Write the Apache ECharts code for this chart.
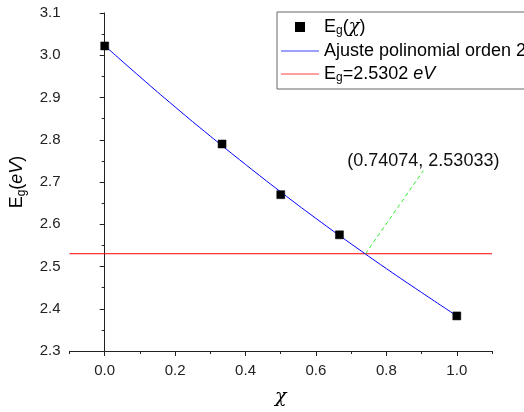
<!DOCTYPE html>
<html><head><meta charset="utf-8">
<script src="https://cdn.jsdelivr.net/npm/echarts@6/dist/echarts.min.js"></script>
<style>html,body{margin:0;padding:0;background:#fff}#c{width:524px;height:412px}</style>
</head><body><div id="c"></div>
<script>
// Measured data E_g(χ)
const chiValues = [0, 0.3333, 0.5, 0.6667, 1.0];
const egValues = [3.022, 2.790, 2.670, 2.575, 2.383];
// Second-order polynomial fit curve at these χ
const fitChi = [0, 0.1, 0.2, 0.3, 0.4, 0.5, 0.6, 0.7, 0.8, 0.9, 1.0];
const fitEg = [3.0227, 2.9491, 2.8776, 2.8085, 2.7415, 2.6765, 2.6138, 2.5535, 2.4950, 2.4385, 2.3831];
// Horizontal reference level
const refLevel = 2.5302;
const refChi = [-0.1, 1.1];
// Intersection annotation
const crossPoint = [0.74074, 2.53033];
const labelAnchor = [0.905, 2.727];
const crossLabel = '(0.74074, 2.53033)';
// Axis ticks
const xMajorTicks = [0, 0.2, 0.4, 0.6, 0.8, 1.0];
const xMinorTicks = [-0.1, 0.1, 0.3, 0.5, 0.7, 0.9, 1.1];
const seriesNames = ['Eg(chi)', 'Ajuste polinomial orden 2', 'Eg=2.5302 eV'];

const FONT = '"Liberation Sans", Arial, sans-serif';
const axisColor = '#222';
const chart = echarts.init(document.getElementById('c'), null, {renderer: 'canvas'});
const rich = {
  n: {fontSize: 18, fontFamily: FONT, color: '#000'},
  sub: {fontSize: 12, fontFamily: FONT, color: '#000', verticalAlign: 'bottom', padding: [8, 0, 0, 0]},
  it: {fontSize: 18, fontFamily: FONT, color: '#000', fontStyle: 'italic'},
  chi: {fontSize: 18, fontFamily: '"DejaVu Serif", serif', fontStyle: 'italic', color: '#000'}
};
const legendText = {
  [seriesNames[0]]: '{n|E}{sub|g}{n|(}{chi|χ}{n|)}',
  [seriesNames[1]]: '{n|Ajuste polinomial orden 2}',
  [seriesNames[2]]: '{n|E}{sub|g}{n|=2.5302 }{it|eV}'
};
const lineIcon = 'path://M0,0M38,12M0,5.5L38,5.5L38,6.6L0,6.6Z';
const option = {
  animation: false,
  backgroundColor: '#fff',
  grid: {left: 67, right: 32, top: 13, bottom: 58, containLabel: false},
  legend: {
    orient: 'vertical', left: 277, top: 12,
    padding: [6, 8, 5, 3],
    borderColor: '#666', borderWidth: 1,
    itemWidth: 38, itemHeight: 12, itemGap: 5,
    data: [
      {name: seriesNames[0], icon: 'path://M0,0M38,12M15,2L23,2L23,10L15,10Z', itemStyle: {color: '#000', opacity: 1}},
      {name: seriesNames[1], icon: lineIcon, itemStyle: {color: '#4040ff', opacity: 1}},
      {name: seriesNames[2], icon: lineIcon, itemStyle: {color: '#ff4040', opacity: 1}}
    ],
    formatter: name => legendText[name],
    textStyle: {rich: rich}
  },
  xAxis: [{
    type: 'value', min: -0.1, max: 1.1, interval: 0.1,
    name: 'χ', nameLocation: 'middle', nameGap: 37,
    nameTextStyle: {fontSize: 19, fontFamily: '"DejaVu Serif", serif', fontStyle: 'italic', color: '#000'},
    axisLine: {onZero: false, lineStyle: {color: axisColor, width: 1}},
    axisTick: {show: true, customValues: xMajorTicks, length: 5, lineStyle: {color: axisColor}},
    axisLabel: {customValues: xMajorTicks, fontSize: 15, fontFamily: FONT, color: '#222', margin: 12,
      formatter: v => v.toFixed(1)},
    splitLine: {show: false}
  }, {
    type: 'value', min: -0.1, max: 1.1, interval: 0.1, position: 'bottom',
    gridIndex: 0,
    axisLine: {show: false},
    axisTick: {show: true, customValues: xMinorTicks, length: 3, lineStyle: {color: axisColor}},
    axisLabel: {show: false},
    splitLine: {show: false}
  }],
  yAxis: {
    type: 'value', min: 2.3, max: 3.1, interval: 0.1,
    name: '{n|E}{sub|g}{n|(}{it|eV}{n|)}', nameLocation: 'middle', nameGap: 42, nameRotate: 90,
    nameTextStyle: {rich: {
      n: {fontSize: 18, fontFamily: FONT, color: '#000'},
      sub: {fontSize: 12, fontFamily: FONT, color: '#000', verticalAlign: 'bottom', padding: [9, 0, 0, 0]},
      it: {fontSize: 18, fontFamily: FONT, color: '#000', fontStyle: 'italic'}
    }},
    axisLine: {show: true, lineStyle: {color: axisColor, width: 1}},
    axisTick: {show: true, length: 5, lineStyle: {color: axisColor}},
    minorTick: {show: true, splitNumber: 2, length: 3, lineStyle: {color: axisColor}},
    axisLabel: {fontSize: 15, fontFamily: FONT, color: '#222', margin: 9, formatter: v => v.toFixed(1)},
    splitLine: {show: false}
  },
  series: [
    {
      name: seriesNames[2], type: 'line', xAxisIndex: 0,
      data: refChi.map(x => [x, refLevel]),
      symbol: 'none', lineStyle: {color: '#ff0000', width: 1}, itemStyle: {color: '#ff0000'},
      z: 2
    },
    {
      name: seriesNames[1], type: 'line', xAxisIndex: 0,
      data: fitChi.map((x, i) => [x, fitEg[i]]),
      symbol: 'none', smooth: true, lineStyle: {color: '#0000ff', width: 1}, itemStyle: {color: '#0000ff'},
      z: 3,
      markLine: {
        silent: true, symbol: ['none', 'none'],
        lineStyle: {color: '#33ee33', type: [4, 3], width: 1},
        label: {show: false},
        data: [[{coord: crossPoint}, {coord: labelAnchor}]]
      },
      markPoint: {
        silent: true, symbol: 'circle', symbolSize: 0,
        label: {show: true, position: 'top', distance: 1, formatter: crossLabel,
          fontSize: 18, fontFamily: FONT, color: '#111'},
        data: [{coord: labelAnchor}]
      }
    },
    {
      name: seriesNames[0], type: 'scatter', xAxisIndex: 0,
      data: chiValues.map((x, i) => [x, egValues[i]]),
      symbol: 'rect', symbolSize: 8, itemStyle: {color: '#000', borderColor: '#000', borderWidth: 0.5, opacity: 1},
      z: 5
    }
  ]
};
chart.setOption(option);
</script>
</body></html>
